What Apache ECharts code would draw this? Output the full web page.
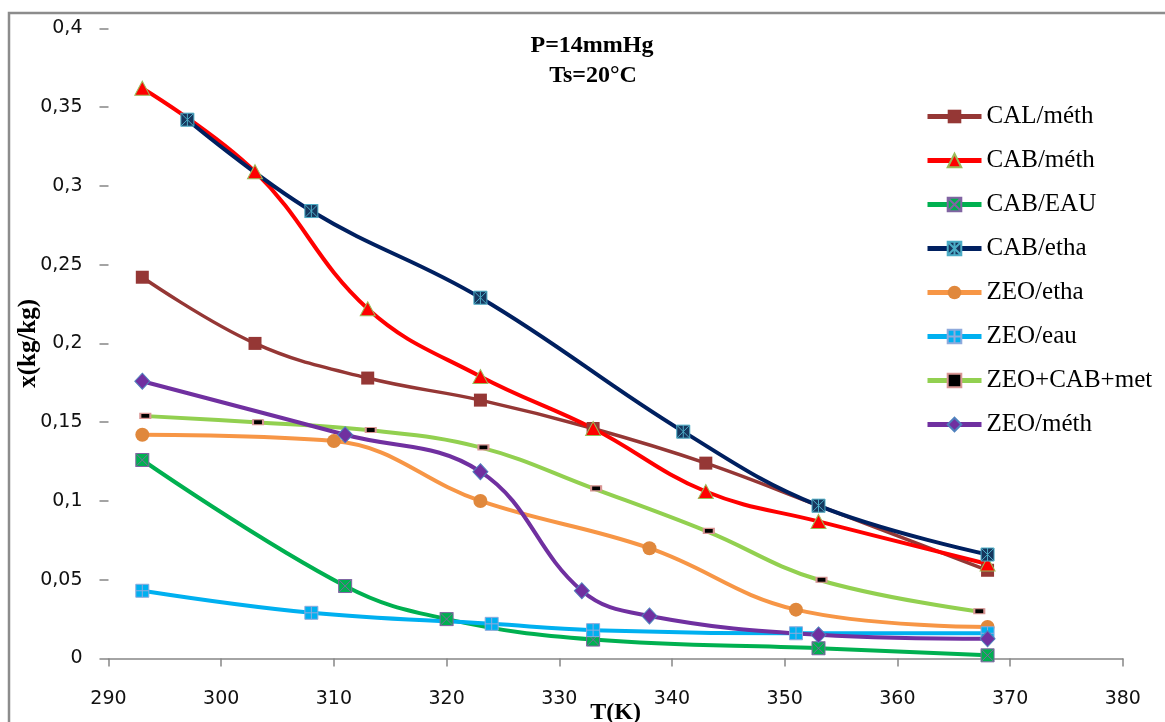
<!DOCTYPE html>
<html>
<head>
<meta charset="utf-8">
<script src="https://cdn.jsdelivr.net/npm/echarts@6/dist/echarts.min.js"></script>
<style>
  html, body { margin: 0; padding: 0; background: #fff; }
  #chart { width: 1165px; height: 722px; }
</style>
</head>
<body>
<div id="chart"></div>
<script>
// Temperature axis ticks and adsorbed mass axis ticks
const tTicks = [290, 300, 310, 320, 330, 340, 350, 360, 370, 380];
const xTicks = [0, 0.05, 0.1, 0.15, 0.2, 0.25, 0.3, 0.35, 0.4];

// Series names (legend order)
const names = ['CAL/méth', 'CAB/méth', 'CAB/EAU', 'CAB/etha', 'ZEO/etha', 'ZEO/eau', 'ZEO+CAB+met', 'ZEO/méth'];

// Measured points: temperature T (K) and uptake x (kg/kg)
const calMethT = [293, 303, 313, 323, 333, 343, 353, 368];
const calMethX = [0.242, 0.200, 0.178, 0.164, 0.146, 0.124, 0.097, 0.056];

const cabMethT = [293, 303, 313, 323, 333, 343, 353, 368];
const cabMethX = [0.362, 0.309, 0.222, 0.179, 0.146, 0.106, 0.087, 0.060];

const cabEauT = [293, 311, 320, 333, 353, 368];
const cabEauX = [0.126, 0.046, 0.025, 0.012, 0.0065, 0.002];

const cabEthaT = [297, 308, 323, 341, 353, 368];
const cabEthaX = [0.342, 0.284, 0.229, 0.144, 0.097, 0.066];

const zeoEthaT = [293, 310, 323, 338, 351, 368];
const zeoEthaX = [0.142, 0.138, 0.100, 0.070, 0.031, 0.020];

const zeoEauT = [293, 308, 324, 333, 351, 368];
const zeoEauX = [0.043, 0.029, 0.022, 0.018, 0.016, 0.016];

const zeoMixT = [293, 303, 313, 323, 333, 343, 353, 367];
const zeoMixX = [0.154, 0.150, 0.145, 0.134, 0.108, 0.081, 0.050, 0.030];

const zeoMethT = [293, 311, 323, 332, 338, 353, 368];
const zeoMethX = [0.176, 0.142, 0.1186, 0.043, 0.027, 0.015, 0.0125];

function pairs(ts, xs) { return ts.map((t, i) => [t, xs[i]]); }

// Marker shapes: filled square with stroked cross / star / plus overlays
const squareX = 'path://M0,0L10,0L10,10L0,10Z M0,0L10,10 M10,0L0,10';
const squareStar = 'path://M0,0L10,0L10,10L0,10Z M0,0L10,10 M10,0L0,10 M5,0L5,10';
const squarePlus = 'path://M0,0L10,0L10,10L0,10Z M5,0L5,10 M0,5L10,5';

function lineSeries(name, data, color, width, symbol, size, fill, border, borderW, extra) {
  return Object.assign({
    name: name,
    type: 'line',
    data: data,
    smooth: 0.4,
    symbol: symbol,
    symbolSize: size,
    showAllSymbol: true,
    lineStyle: { color: color, width: width },
    itemStyle: { color: fill, borderColor: border, borderWidth: borderW },
    emphasis: { disabled: true },
    z: 2
  }, extra || {});
}

const series = [
  lineSeries(names[0], pairs(calMethT, calMethX), '#953735', 3.5, 'rect', 13, '#953735', '#953735', 0),
  lineSeries(names[1], pairs(cabMethT, cabMethX), '#ff0000', 4, 'triangle', [15, 14], '#ff0000', '#9bbb59', 1),
  lineSeries(names[2], pairs(cabEauT, cabEauX), '#00b050', 4, squareX, 13, '#00b050', '#8064a2', 1),
  lineSeries(names[3], pairs(cabEthaT, cabEthaX), '#002060', 4, squareStar, 13, '#17375e', '#4bacc6', 1),
  lineSeries(names[4], pairs(zeoEthaT, zeoEthaX), '#f79646', 4, 'circle', 14, '#e0883c', '#e0883c', 0),
  lineSeries(names[5], pairs(zeoEauT, zeoEauX), '#00b0f0', 4, squarePlus, 13, '#00b0f0', '#8faadc', 1),
  lineSeries(names[6], pairs(zeoMixT, zeoMixX), '#92d050', 4, 'rect', [10, 5], '#000000', '#d99694', 1.5,
    { symbolOffset: [3, 0] }),
  lineSeries(names[7], pairs(zeoMethT, zeoMethX), '#7030a0', 4, 'diamond', [15, 16], '#7030a0', '#4f81bd', 1)
];

const chart = echarts.init(document.getElementById('chart'), null, { renderer: 'canvas' });

chart.setOption({
  backgroundColor: '#ffffff',
  animation: false,
  grid: { left: 108.5, right: 42.2, top: 28.3, bottom: 63.5, containLabel: false, outerBoundsMode: 'none' },
  graphic: [
    {
      type: 'rect',
      shape: { x: 9, y: 13, width: 1300, height: 900 },
      style: { fill: 'none', stroke: '#8c8c8c', lineWidth: 2.5 },
      silent: true, z: 0
    },
    {
      type: 'text', x: 592, y: 46,
      style: { text: 'P=14mmHg', font: 'bold 24px "Liberation Serif"', fill: '#000', align: 'center', verticalAlign: 'middle' },
      z: 10
    },
    {
      type: 'text', x: 593, y: 76,
      style: { text: 'Ts=20°C', font: 'bold 24px "Liberation Serif"', fill: '#000', align: 'center', verticalAlign: 'middle' },
      z: 10
    }
  ],
  legend: {
    orient: 'vertical',
    left: 920,
    top: 99,
    itemWidth: 54,
    itemHeight: 17,
    itemGap: 19,
    data: names,
    lineStyle: { width: 5 },
    textStyle: { fontFamily: 'Liberation Serif', fontSize: 25, color: '#000' },
    selectedMode: false
  },
  xAxis: {
    type: 'value',
    min: tTicks[0],
    max: tTicks[tTicks.length - 1],
    interval: 10,
    name: 'T(K)',
    nameLocation: 'middle',
    nameGap: 42,
    nameMoveOverlap: false,
    nameTextStyle: { fontFamily: 'Liberation Serif', fontWeight: 'bold', fontSize: 24, color: '#000' },
    axisLine: { show: true, lineStyle: { color: '#868686', width: 1.5 } },
    axisTick: { show: true, inside: false, length: 8, lineStyle: { color: '#868686', width: 1.5 } },
    axisLabel: { margin: 31, fontFamily: 'DejaVu Sans', fontSize: 19, color: '#111' },
    splitLine: { show: false }
  },
  yAxis: {
    type: 'value',
    min: xTicks[0],
    max: xTicks[xTicks.length - 1],
    interval: 0.05,
    name: 'x(kg/kg)',
    nameLocation: 'middle',
    nameRotate: 90,
    nameGap: 67,
    nameMoveOverlap: false,
    nameTextStyle: { fontFamily: 'Liberation Serif', fontWeight: 'bold', fontSize: 25, color: '#000' },
    axisLine: { show: false },
    axisTick: { show: true, inside: false, length: 9, lineStyle: { color: '#868686', width: 1.5 } },
    axisLabel: {
      margin: 26, fontFamily: 'DejaVu Sans', fontSize: 19, color: '#111',
      formatter: v => String(+v.toFixed(2)).replace('.', ',')
    },
    splitLine: { show: false }
  },
  series: series
});
</script>
</body>
</html>
